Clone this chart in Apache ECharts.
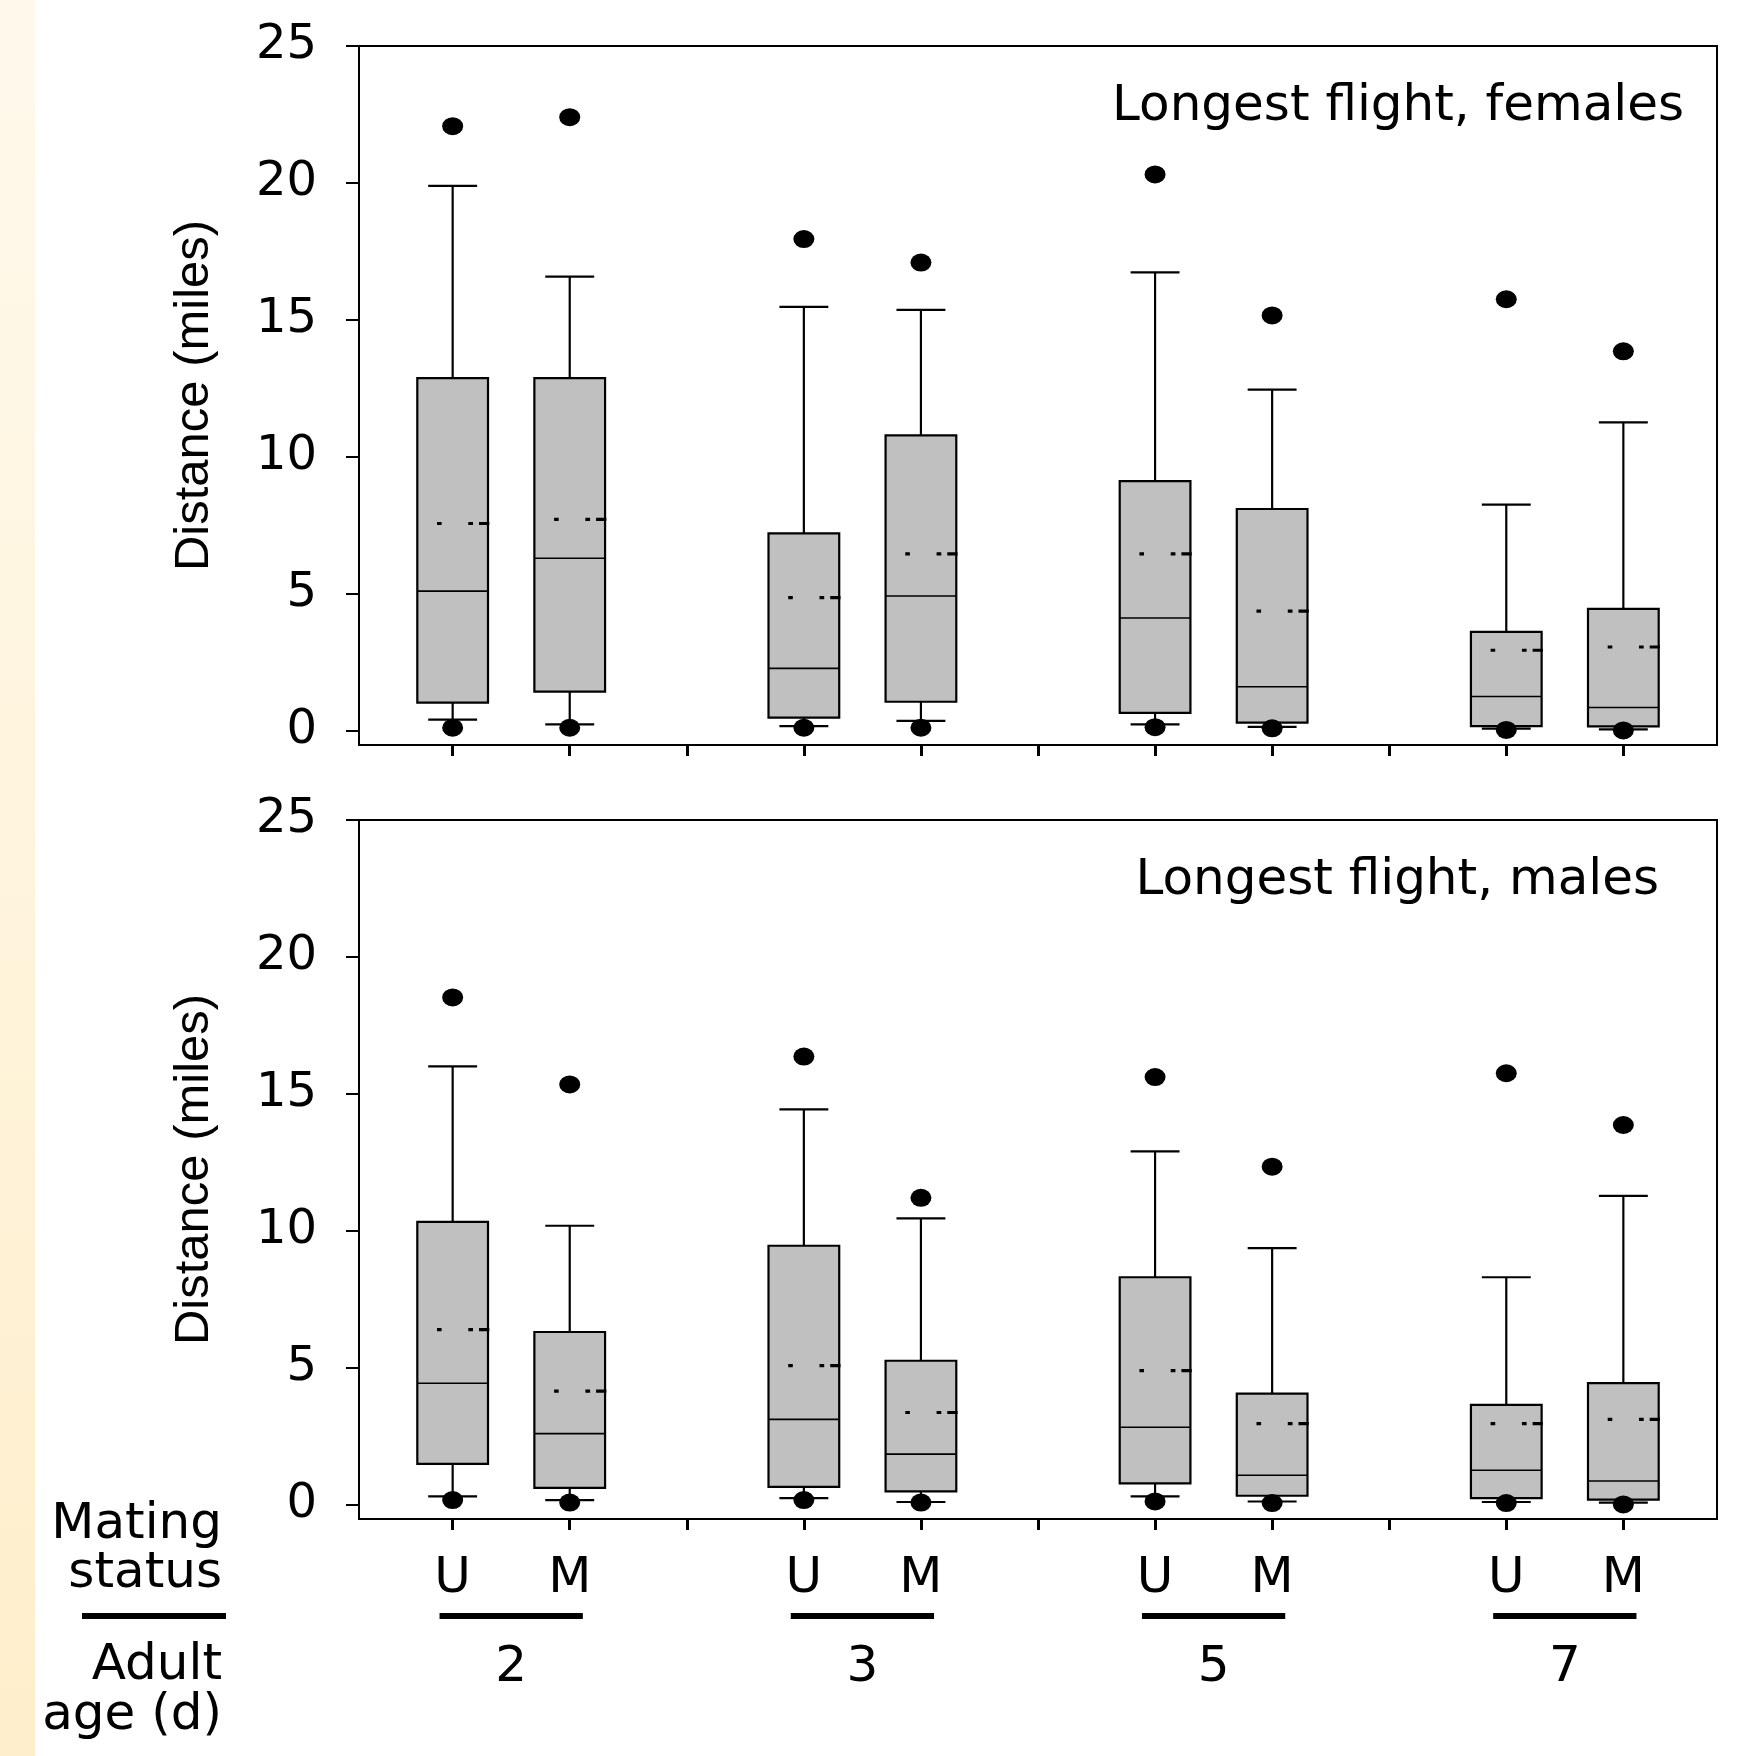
<!DOCTYPE html>
<html><head><meta charset="utf-8">
<script src="https://cdn.jsdelivr.net/npm/echarts@6/dist/echarts.min.js"></script>
<style>html,body{margin:0;padding:0;background:#fff}#c{width:1758px;height:1756px}</style>
</head><body><div id="c"></div><script>
// ---- categories / ticks ----
const slots = [0, 1, 3, 4, 6, 7, 9, 10];
const matingLabels = ['U', 'M', 'U', 'M', 'U', 'M', 'U', 'M'];
const ageLabels = ['2', '3', '5', '7'];
const ageCenters = [0.5, 3.5, 6.5, 9.5];
const yTicks = [0, 5, 10, 15, 20, 25];
const xTicks = [0, 1, 2, 3, 4, 5, 6, 7, 8, 9, 10];
const panelTitles = ['Longest flight, females', 'Longest flight, males'];

// ---- females (top) ----
const fWhiskerLow  = [0.40, 0.22, 0.16, 0.35, 0.22, 0.13, 0.07, 0.04];
const fQ1          = [1.02, 1.42, 0.47, 1.05, 0.64, 0.29, 0.16, 0.15];
const fMedian      = [5.09, 6.29, 2.27, 4.91, 4.11, 1.60, 1.24, 0.84];
const fQ3          = [12.87, 12.87, 7.20, 10.78, 9.11, 8.09, 3.60, 4.44];
const fWhiskerHigh = [19.89, 16.58, 15.47, 15.36, 16.73, 12.45, 8.25, 11.25];
const fMean        = [7.56, 7.71, 4.85, 6.45, 6.45, 4.36, 2.93, 3.05];
const fOutHigh     = [22.07, 22.40, 17.95, 17.09, 20.31, 15.16, 15.75, 13.85];
const fOutLow      = [0.10, 0.10, 0.10, 0.10, 0.12, 0.08, 0.02, 0.00];

// ---- males (bottom) ----
const mWhiskerLow  = [0.30, 0.16, 0.23, 0.09, 0.30, 0.11, 0.09, 0.07];
const mQ1          = [1.48, 0.61, 0.64, 0.48, 0.77, 0.32, 0.23, 0.18];
const mMedian      = [4.43, 2.59, 3.11, 1.84, 2.82, 1.07, 1.25, 0.86];
const mQ3          = [10.32, 6.30, 9.45, 5.25, 8.30, 4.05, 3.64, 4.43];
const mWhiskerHigh = [16.00, 10.18, 14.43, 10.45, 12.90, 9.36, 8.30, 11.27];
const mMean        = [6.39, 4.14, 5.07, 3.36, 4.89, 2.95, 2.95, 3.11];
const mOutHigh     = [18.52, 15.34, 16.36, 11.20, 15.61, 12.34, 15.75, 13.86];
const mOutLow      = [0.16, 0.07, 0.16, 0.07, 0.11, 0.05, 0.05, 0.00];

const BOX_W = 0.604, CAP_W = 0.418;
const NUM_FONT = 'DejaVu Sans';

function boxData(wl, q1, med, q3, wh, mean) {
  return slots.map((s, i) => [s, wl[i], q1[i], med[i], q3[i], wh[i], mean[i]]);
}
function outData(hi, lo) {
  const d = [];
  slots.forEach((s, i) => { d.push([s, hi[i]]); d.push([s, lo[i]]); });
  return d;
}

function renderBox(params, api) {
  const x = api.value(0);
  const yWl = api.coord([x, api.value(1)])[1];
  const yQ1 = api.coord([x, api.value(2)])[1];
  const yMed = api.coord([x, api.value(3)])[1];
  const yQ3 = api.coord([x, api.value(4)])[1];
  const yWh = api.coord([x, api.value(5)])[1];
  const yMean = api.coord([x, api.value(6)])[1];
  const cx = api.coord([x, 0])[0];
  const bw = api.size([BOX_W, 0])[0];
  const cw = api.size([CAP_W, 0])[0];
  const left = cx - bw / 2;
  const k = bw / 70.7;
  const ln = { stroke: '#000', lineWidth: 2.2 };
  return {
    type: 'group',
    children: [
      { type: 'line', shape: { x1: cx, y1: yQ1, x2: cx, y2: yWl }, style: ln },
      { type: 'line', shape: { x1: cx, y1: yQ3, x2: cx, y2: yWh }, style: ln },
      { type: 'line', shape: { x1: cx - cw / 2, y1: yWl, x2: cx + cw / 2, y2: yWl }, style: ln },
      { type: 'line', shape: { x1: cx - cw / 2, y1: yWh, x2: cx + cw / 2, y2: yWh }, style: ln },
      { type: 'rect', shape: { x: left, y: yQ3, width: bw, height: yQ1 - yQ3 },
        style: { fill: '#c0c0c0', stroke: '#000', lineWidth: 2.2 } },
      { type: 'line', shape: { x1: left, y1: yMed, x2: left + bw, y2: yMed },
        style: { stroke: '#000', lineWidth: 1.6 } },
      { type: 'line', shape: { x1: left + 19.7 * k, y1: yMean, x2: left + 72 * k, y2: yMean },
        style: { stroke: '#000', lineWidth: 3.2, lineCap: 'butt',
                 lineDash: [4.6 * k, 26.7 * k, 4.7 * k, 6 * k, 12 * k, 60] } }
    ]
  };
}

function renderAgeBar(params, api) {
  const c = api.value(0);
  const x1 = api.coord([c - 0.612, 0])[0];
  const x2 = api.coord([c + 0.612, 0])[0];
  const cs = params.coordSys;
  const y = cs.y + cs.height + 94;
  return { type: 'rect', shape: { x: x1, y: y, width: x2 - x1, height: 6 }, style: { fill: '#000' } };
}

function yAxisCfg(gi) {
  return {
    gridIndex: gi, type: 'value', min: -0.53, max: 25, position: 'left',
    axisLine: { show: true, onZero: false, lineStyle: { color: '#000', width: 2 } },
    axisTick: { show: true, customValues: yTicks, length: 13, lineStyle: { color: '#000', width: 2 } },
    axisLabel: { customValues: yTicks, fontSize: 48, fontFamily: NUM_FONT, color: '#000', margin: 42 },
    splitLine: { show: false },
    name: 'Distance (miles)', nameLocation: 'middle', nameGap: 140,
    nameTextStyle: { fontFamily: 'Liberation Sans', fontSize: 49, color: '#000' }
  };
}
function xAxisCfg(gi, labels) {
  return {
    gridIndex: gi, type: 'value', min: -0.8, max: 10.8, position: 'bottom',
    axisLine: { show: true, onZero: false, lineStyle: { color: '#000', width: 2 } },
    axisTick: { show: true, customValues: xTicks, length: 11, lineStyle: { color: '#000', width: 3 } },
    axisLabel: labels ? {
      customValues: slots, fontSize: 50, fontFamily: NUM_FONT, color: '#000', margin: 35,
      formatter: v => { const i = slots.findIndex(s => Math.abs(s - v) < 1e-6); return i >= 0 ? matingLabels[i] : ''; }
    } : { show: false },
    splitLine: { show: false }
  };
}

const gridBase = { left: 359, width: 1358, height: 699, show: true, borderColor: '#000', borderWidth: 2, containLabel: false };

const option = {
  backgroundColor: '#fff',
  animation: false,
  grid: [
    Object.assign({ top: 46 }, gridBase),
    Object.assign({ top: 820 }, gridBase)
  ],
  xAxis: [
    xAxisCfg(0, false),
    xAxisCfg(1, true),
    {
      gridIndex: 1, type: 'value', min: -0.8, max: 10.8, position: 'bottom',
      axisLine: { show: false, onZero: false }, axisTick: { show: false }, splitLine: { show: false },
      axisLabel: {
        customValues: ageCenters, fontSize: 50, fontFamily: NUM_FONT, color: '#000', margin: 124,
        formatter: v => { const i = ageCenters.findIndex(s => Math.abs(s - v) < 1e-6); return i >= 0 ? ageLabels[i] : ''; }
      }
    }
  ],
  yAxis: [yAxisCfg(0), yAxisCfg(1)],
  series: [
    { type: 'custom', xAxisIndex: 0, yAxisIndex: 0, renderItem: renderBox,
      data: boxData(fWhiskerLow, fQ1, fMedian, fQ3, fWhiskerHigh, fMean), z: 2 },
    { type: 'scatter', xAxisIndex: 0, yAxisIndex: 0, symbol: 'circle', symbolSize: [21, 18],
      itemStyle: { color: '#000', opacity: 1 }, data: outData(fOutHigh, fOutLow), z: 3, silent: true },
    { type: 'custom', xAxisIndex: 1, yAxisIndex: 1, renderItem: renderBox,
      data: boxData(mWhiskerLow, mQ1, mMedian, mQ3, mWhiskerHigh, mMean), z: 2 },
    { type: 'scatter', xAxisIndex: 1, yAxisIndex: 1, symbol: 'circle', symbolSize: [21, 18],
      itemStyle: { color: '#000', opacity: 1 }, data: outData(mOutHigh, mOutLow), z: 3, silent: true },
    { type: 'custom', xAxisIndex: 1, yAxisIndex: 1, renderItem: renderAgeBar, clip: false,
      data: ageCenters.map(c => [c, 0]), z: 2 }
  ],
  graphic: [
    { type: 'rect', left: 0, top: 0, z: -10, shape: { width: 35, height: 1756 },
      style: { fill: new echarts.graphic.LinearGradient(0, 0, 0, 1, [
        { offset: 0, color: '#fff9ec' }, { offset: 1, color: '#feeecb' }]) } },
    { type: 'text', x: 1684, y: 107, style: { text: panelTitles[0], font: '50px "DejaVu Sans"', fill: '#000', align: 'right', verticalAlign: 'middle' } },
    { type: 'text', x: 1659, y: 881, style: { text: panelTitles[1], font: '50px "DejaVu Sans"', fill: '#000', align: 'right', verticalAlign: 'middle' } },
    { type: 'text', x: 222, y: 1525, style: { text: 'Mating', font: '50px "DejaVu Sans"', fill: '#000', align: 'right', verticalAlign: 'middle' } },
    { type: 'text', x: 222, y: 1574, style: { text: 'status', font: '50px "DejaVu Sans"', fill: '#000', align: 'right', verticalAlign: 'middle' } },
    { type: 'rect', shape: { x: 82, y: 1613, width: 144, height: 6 }, style: { fill: '#000' } },
    { type: 'text', x: 222, y: 1666, style: { text: 'Adult', font: '50px "DejaVu Sans"', fill: '#000', align: 'right', verticalAlign: 'middle' } },
    { type: 'text', x: 222, y: 1716, style: { text: 'age (d)', font: '50px "DejaVu Sans"', fill: '#000', align: 'right', verticalAlign: 'middle' } }
  ]
};

const chart = echarts.init(document.getElementById('c'), null, { renderer: 'canvas' });
chart.setOption(option);
</script></body></html>
